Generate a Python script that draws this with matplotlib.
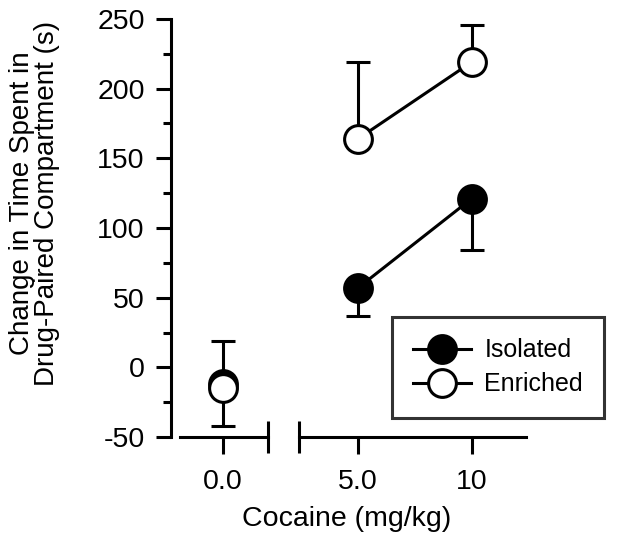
import matplotlib
matplotlib.use("Agg")
import matplotlib.pyplot as plt

plt.rcParams["font.family"] = ["Liberation Sans", "DejaVu Sans"]
plt.rcParams["axes.unicode_minus"] = False

# cocaine dose (mg/kg)
doses_left = [0.0]
doses_right = [5.0, 10.0]

isolated_left = [-12]
isolated_right = [57, 121]
isolated_err_left = [30]
isolated_err_right = [20, 37]

enriched_left = [-15]
enriched_right = [164, 219]
enriched_err_left = [34]
enriched_err_right = [55, 27]

tick_labels_left = ["0.0"]
tick_labels_right = ["5.0", "10"]

LW = 2.2
MS = 20
FS = 20.5

W, H = 618, 556
fig = plt.figure(figsize=(W / 100, H / 100), dpi=100)

def px_box(x0, x1, ytop, ybot):
    return [x0 / W, (H - ybot) / H, (x1 - x0) / W, (ybot - ytop) / H]

axL = fig.add_axes(px_box(180, 268, 19, 437))
axR = fig.add_axes(px_box(299, 526, 19, 437), sharey=axL)


def draw(ax, x, iso, iso_err, enr, enr_err):
    # isolated: error bars downward, enriched: error bars upward
    ax.errorbar(x, iso, yerr=[iso_err, [0] * len(iso_err)], fmt="none",
                ecolor="black", elinewidth=LW, capsize=8.6, capthick=LW, zorder=2)
    ax.errorbar(x, enr, yerr=[[0] * len(enr_err), enr_err], fmt="none",
                ecolor="black", elinewidth=LW, capsize=8.6, capthick=LW, zorder=2)
    ax.plot(x, iso, "-o", color="black", mfc="black", mec="black", ms=MS,
            mew=LW, lw=LW, zorder=3, label="Isolated")
    ax.plot(x, enr, "-o", color="black", mfc="white", mec="black", ms=MS,
            mew=LW, lw=LW, zorder=4, label="Enriched")


draw(axL, doses_left, isolated_left, isolated_err_left, enriched_left, enriched_err_left)
draw(axR, doses_right, isolated_right, isolated_err_right, enriched_right, enriched_err_right)

axL.set_ylim(-50, 250)
axL.set_yticks(range(-50, 251, 50))
axL.set_yticks(range(-25, 250, 50), minor=True)
axL.set_xlim(-1.9, 2.0)
axR.set_xlim(2.4, 12.4)
axL.set_xticks(doses_left)
axL.set_xticklabels(tick_labels_left)
axR.set_xticks(doses_right)
axR.set_xticklabels(tick_labels_right)

for ax in (axL, axR):
    ax.spines["top"].set_visible(False)
    ax.spines["right"].set_visible(False)
    ax.spines["bottom"].set_linewidth(LW)
    ax.spines["left"].set_linewidth(LW)
    ax.tick_params(axis="x", which="major", direction="out", length=12,
                   width=LW, labelsize=FS, pad=11)
    ax.patch.set_visible(False)

axL.spines["left"].set_position(("outward", 6.5))
axL.tick_params(axis="y", which="major", direction="out", length=10.8,
                width=LW, labelsize=FS, pad=8)
axL.tick_params(axis="y", which="minor", direction="out", length=5.8, width=LW)

axR.spines["left"].set_visible(False)
axR.tick_params(axis="y", which="both", left=False, labelleft=False)

# axis break marks
axL.plot([1], [0], marker="|", ms=23, mew=LW, color="black",
         transform=axL.transAxes, clip_on=False)
axR.plot([0], [0], marker="|", ms=23, mew=LW, color="black",
         transform=axR.transAxes, clip_on=False)

fig.text(35 / W, 1 - 203 / H, "Change in Time Spent in\nDrug-Paired Compartment (s)",
         rotation=90, ha="center", va="center", fontsize=20, linespacing=0.95)
fig.text(347 / W, 1 - 519 / H, "Cocaine (mg/kg)", ha="center", va="center", fontsize=FS)

handles, labels = axR.get_legend_handles_labels()
leg = fig.legend(handles, labels, loc="upper left",
                 bbox_to_anchor=(392 / W, 1 - 317 / H), borderaxespad=0,
                 fontsize=18, frameon=True, fancybox=False, handlelength=2.3,
                 handletextpad=0.55, borderpad=0.85, labelspacing=0.4)
leg.get_frame().set_edgecolor("black")
leg.get_frame().set_linewidth(LW)

fig.savefig("out.png", dpi=100)
